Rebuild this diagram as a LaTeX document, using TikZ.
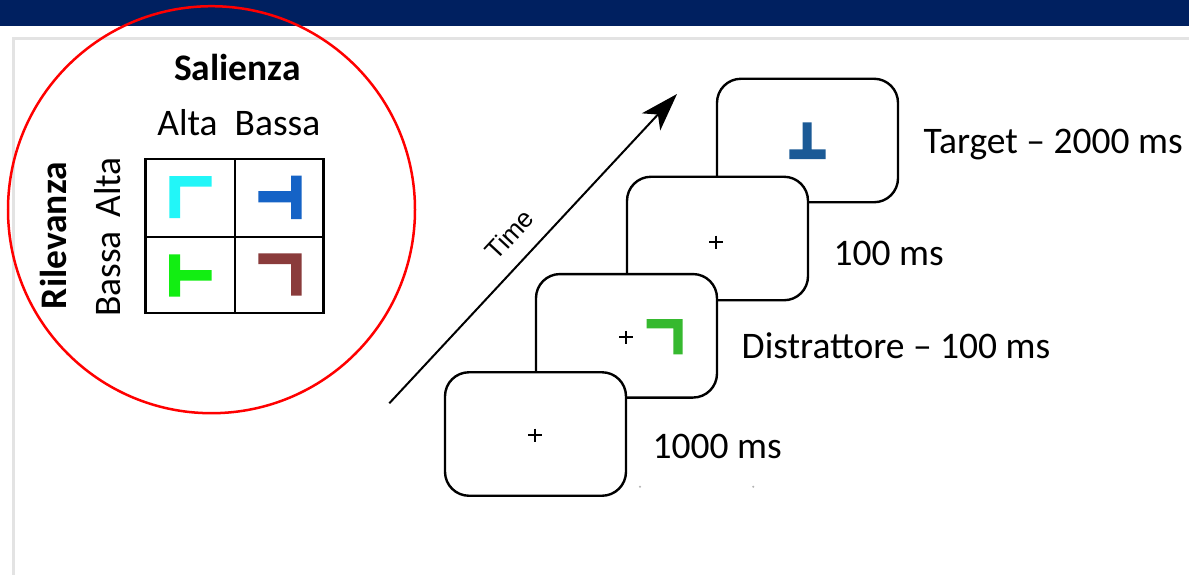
\documentclass[tikz,border=0pt]{standalone}
\usepackage{fontspec}
\setmainfont{Carlito}
\newfontfamily\timefont{Liberation Sans}
\usetikzlibrary{arrows.meta}
\definecolor{navybar}{HTML}{002060}
\definecolor{framegray}{HTML}{E3E3E3}
\definecolor{cyanL}{HTML}{22F6F8}
\definecolor{blueT}{HTML}{1563C6}
\definecolor{greenT}{HTML}{12EE12}
\definecolor{brownL}{HTML}{8A3B3B}
\definecolor{distgreen}{HTML}{36B92F}
\definecolor{targetblue}{HTML}{1B5A96}
\tikzset{
  big/.style={font=\fontsize{37.5}{44}\selectfont, inner sep=0pt, text=black},
  bigbold/.style={font=\fontsize{37.5}{44}\selectfont\bfseries, inner sep=0pt, text=black},
  screen/.style={draw=black, fill=white, line width=2.4pt, rounded corners=24pt,
    minimum width=181pt, minimum height=123.5pt, inner sep=0pt},
  gridline/.style={draw=black, line width=2.4pt},
  plusmark/.style={draw=black, line width=2.2pt},
}
\begin{document}
\begin{tikzpicture}[x=1pt,y=-1pt]
\useasboundingbox (0,0) rectangle (1189,574);
\fill[white] (0,0) rectangle (1189,574);
% header bar and frame
\fill[navybar] (0,0) rectangle (1189,26);
\draw[framegray, line width=2.5pt] (1192,38.5) -- (13.5,38.5) -- (13.5,578);

% red circle
\node[draw=red, circle, line width=2.5pt, minimum size=407pt, inner sep=0pt] (ring) at (211.5,209.7) {};

% grid
\draw[gridline] (145.3,159) rectangle (323.3,313);
\draw[gridline] (235,159) -- (235,313);
\draw[gridline] (145.3,236.7) -- (323.3,236.7);

% glyphs in grid
\fill[cyanL] (169.3,176) rectangle (211.7,186.7) (169.3,176) rectangle (180,218);
\fill[blueT] (291,175.7) rectangle (301.7,219) (258.3,191) rectangle (291,202.3);
\fill[greenT] (169,254.3) rectangle (180,296.7) (180,270) rectangle (211.7,280.7);
\fill[brownL] (258.3,253.3) rectangle (301.7,264) (291,253.3) rectangle (301.7,295.7);

% grid labels
\node[bigbold, anchor=base] (sal) at (237.5,80) {Salienza};
\node[big, anchor=base] (altaH) at (187.5,135) {Alta};
\node[big, anchor=base] (bassaH) at (277.5,135) {Bassa};
\node[bigbold, anchor=base, rotate=90] (ril) at (66,235.5) {Rilevanza};
\node[big, anchor=base, rotate=90] (altaV) at (120,187.5) {Alta};
\node[big, anchor=base, rotate=90] (bassaV) at (120,274) {Bassa};

% time arrow
\coordinate (tA) at (389.3,403.3);
\coordinate (tB) at (677,94);
\draw[line width=2pt, -{Stealth[length=38pt,width=25pt,inset=10pt]}] (tA) -- (tB);
\node[font=\timefont\fontsize{26}{30}\selectfont, rotate=47.1, inner sep=0pt] (time) at (509.5,234.5) {Time};

% screens (back to front)
\node[screen] (s4) at (807.5,140.5) {};
\fill[targetblue] (802.7,122.3) rectangle (811.7,150) (789.3,149.3) rectangle (825.7,159);
\node[screen] (s3) at (717.5,238.5) {};
\draw[plusmark] (709,242) -- (723,242) (716,235.5) -- (716,248.5);
\node[screen] (s2) at (626.5,335.8) {};
\draw[plusmark] (619,337.3) -- (633,337.3) (626,330.8) -- (626,343.8);
\fill[distgreen] (646.7,319) rectangle (682.7,328.3) (673.3,319) rectangle (682.7,354.3);
\node[screen] (s1) at (535.5,434) {};
\draw[plusmark] (528,435) -- (542,435) (535,428.5) -- (535,441.5);

% tiny marks
\fill[gray!60] (640,486.7) circle (1.1pt) (753.3,486.7) circle (1.1pt);

% timing labels
\node[big, anchor=base west] (lt) at (923.5,153.3) {Target -- 2000 ms};
\node[big, anchor=base west] (l3) at (833.5,265) {100 ms};
\node[big, anchor=base west] (l2) at (741.5,358.3) {Distrattore -- 100 ms};
\node[big, anchor=base west] (l1) at (652.5,458.3) {1000 ms};
\end{tikzpicture}
\end{document}
